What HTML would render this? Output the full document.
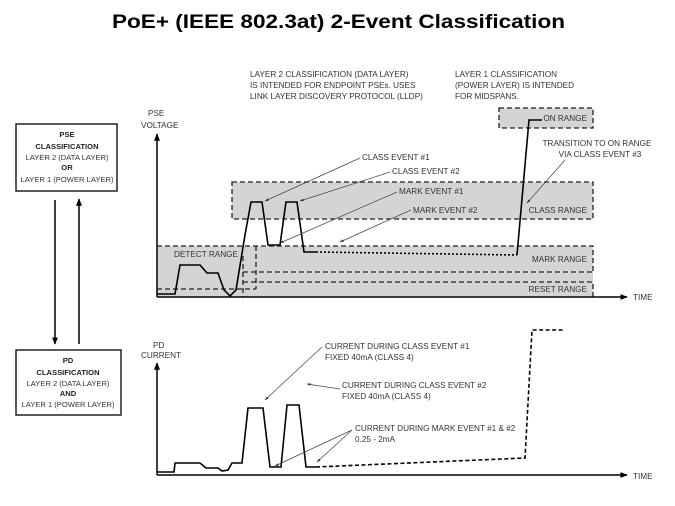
<!DOCTYPE html>
<html><head><meta charset="utf-8"><style>
html,body{margin:0;padding:0;background:#fff}
svg{display:block}
text{font-family:"Liberation Sans",sans-serif;fill:#333;font-size:8.2px}
.t{font-size:19px;font-weight:bold;fill:#000}
.b{font-weight:bold;fill:#222}
.s{font-size:7.6px}
</style></head><body>
<svg width="675" height="506" viewBox="0 0 675 506" xmlns="http://www.w3.org/2000/svg">
<defs><marker id="a" viewBox="0 0 10 10" refX="9" refY="5" markerWidth="5" markerHeight="5" orient="auto"><path d="M0,1 L10,5 L0,9z" fill="#000"/></marker>
<marker id="s" viewBox="0 0 10 10" refX="9" refY="5" markerWidth="6" markerHeight="6" orient="auto"><path d="M0,2 L10,5 L0,8z" fill="#333"/></marker></defs>
<text x="112" y="28" class="t" textLength="453" lengthAdjust="spacingAndGlyphs">PoE+ (IEEE 802.3at) 2-Event Classification</text>

<!-- boxes -->
<rect x="16" y="124" width="101" height="67" fill="#fff" stroke="#222" stroke-width="1.5"/>
<g text-anchor="middle" class="s"><text x="67" y="137" class="b s">PSE</text><text x="67" y="149" class="b s">CLASSIFICATION</text><text x="67" y="160" class="s">LAYER 2 (DATA LAYER)</text><text x="67" y="170" class="b s">OR</text><text x="67" y="182" class="s">LAYER 1 (POWER LAYER)</text></g>
<rect x="16" y="350" width="105" height="65" fill="#fff" stroke="#222" stroke-width="1.5"/>
<g text-anchor="middle"><text x="68" y="363" class="b s">PD</text><text x="68" y="375" class="b s">CLASSIFICATION</text><text x="68" y="386" class="s">LAYER 2 (DATA LAYER)</text><text x="68" y="396" class="b s">AND</text><text x="68" y="407" class="s">LAYER 1 (POWER LAYER)</text></g>
<line x1="55" y1="200" x2="55" y2="344" stroke="#000" stroke-width="1.5" marker-end="url(#a)"/>
<line x1="79" y1="344" x2="79" y2="199" stroke="#000" stroke-width="1.5" marker-end="url(#a)"/>

<!-- top text -->
<text x="250" y="77">LAYER 2 CLASSIFICATION (DATA LAYER)</text><text x="250" y="88">IS INTENDED FOR ENDPOINT PSEs. USES</text><text x="250" y="99">LINK LAYER DISCOVERY PROTOCOL (LLDP)</text>
<text x="455" y="77">LAYER 1 CLASSIFICATION</text><text x="455" y="88">(POWER LAYER) IS INTENDED</text><text x="455" y="99">FOR MIDSPANS.</text>

<!-- ranges -->
<g fill="#d4d4d4" stroke="#222" stroke-width="1.3" stroke-dasharray="5,3">
<rect x="499" y="108" width="94" height="20"/>
<rect x="232" y="182" width="361" height="37"/>
<rect x="157" y="246" width="436" height="51" stroke="none"/>
<path d="M157,246 H593 V272 M243,272 H593 M243,282 H593 V297 M256,246 V289 M157,289 H256 M243,256 V297" fill="none"/>
</g>
<g text-anchor="end"><text x="587" y="121">ON RANGE</text><text x="587" y="213">CLASS RANGE</text><text x="587" y="262">MARK RANGE</text><text x="587" y="292">RESET RANGE</text></g>
<text x="174" y="257">DETECT RANGE</text>

<!-- top axes -->
<text x="148" y="116">PSE</text><text x="141" y="128">VOLTAGE</text>
<line x1="157" y1="297" x2="157" y2="134" stroke="#000" stroke-width="1.5" marker-end="url(#a)"/>
<line x1="157" y1="297" x2="627" y2="297" stroke="#000" stroke-width="1.5" marker-end="url(#a)"/>
<text x="633" y="300">TIME</text>
<path d="M157,294 H175 L180,265 H200 L207,273 H218 L224,290 L230,296 L236,290 L245,235 L251,202 H262 L268,245 H280 L286,202 H297 L304,252 H316" fill="none" stroke="#000" stroke-width="1.6"/>
<path d="M316,252 L517,255" fill="none" stroke="#000" stroke-width="1.6" stroke-dasharray="2,2"/>
<path d="M517,255 L529,120 H542" fill="none" stroke="#000" stroke-width="1.6"/>

<g stroke="#444" stroke-width="0.7" fill="none">
<line x1="360" y1="158" x2="265" y2="201" marker-end="url(#s)"/>
<line x1="390" y1="172" x2="300" y2="201" marker-end="url(#s)"/>
<line x1="397" y1="192" x2="280" y2="243" marker-end="url(#s)"/>
<line x1="411" y1="210" x2="340" y2="242" marker-end="url(#s)"/>
<line x1="565" y1="160" x2="527" y2="203" marker-end="url(#s)"/>
</g>
<text x="362" y="160">CLASS EVENT #1</text><text x="392" y="174">CLASS EVENT #2</text>
<text x="399" y="194">MARK EVENT #1</text><text x="413" y="213">MARK EVENT #2</text>
<g text-anchor="middle"><text x="597" y="146">TRANSITION TO ON RANGE</text><text x="600" y="157">VIA CLASS EVENT #3</text></g>

<!-- bottom chart -->
<text x="153" y="348">PD</text><text x="141" y="358">CURRENT</text>
<line x1="157" y1="475" x2="157" y2="363" stroke="#000" stroke-width="1.5" marker-end="url(#a)"/>
<line x1="157" y1="475" x2="627" y2="475" stroke="#000" stroke-width="1.5" marker-end="url(#a)"/>
<text x="633" y="479">TIME</text>
<path d="M157,472 H174 L175,463 H200 L206,468 H218 L222,471 L228,470 L232,463 H242 L248,408 H263 L270,467 H281 L287,405 H299 L306,467 H316" fill="none" stroke="#000" stroke-width="1.6"/>
<path d="M316,467 L525,458 L532,330 H563" fill="none" stroke="#000" stroke-width="1.6" stroke-dasharray="4,2.5"/>
<g stroke="#444" stroke-width="0.7" fill="none">
<line x1="322" y1="347" x2="265" y2="400" marker-end="url(#s)"/>
<line x1="340" y1="389" x2="307" y2="384" marker-end="url(#s)"/>
<line x1="352" y1="430" x2="275" y2="466" marker-end="url(#s)"/>
<line x1="352" y1="430" x2="317" y2="462" marker-end="url(#s)"/>
</g>
<text x="325" y="349">CURRENT DURING CLASS EVENT #1</text><text x="325" y="360">FIXED 40mA (CLASS 4)</text>
<text x="342" y="388">CURRENT DURING CLASS EVENT #2</text><text x="342" y="399">FIXED 40mA (CLASS 4)</text>
<text x="355" y="431">CURRENT DURING MARK EVENT #1 &amp; #2</text><text x="355" y="442">0.25 - 2mA</text>
</svg>
</body></html>
